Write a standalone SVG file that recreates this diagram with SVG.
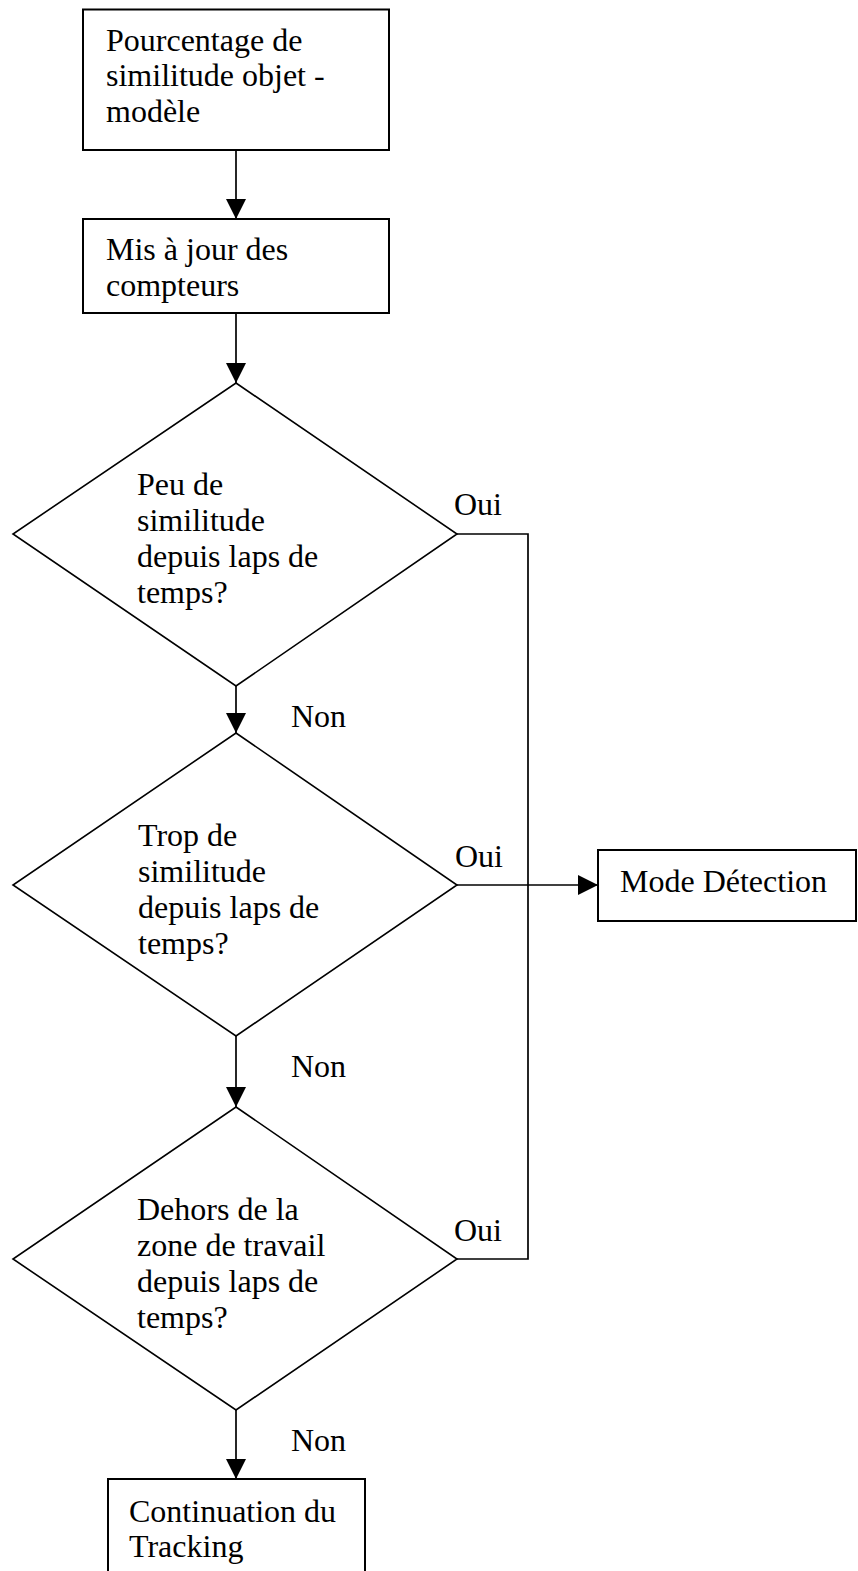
<svg xmlns="http://www.w3.org/2000/svg" width="858" height="1571" viewBox="0 0 858 1571">
  <style>
    .box { fill: #ffffff; stroke: #000000; stroke-width: 2; }
    .dec { fill: #ffffff; stroke: #000000; stroke-width: 1.6; }
    .edge { fill: none; stroke: #000000; stroke-width: 1.7; }
    .lbl { font-family: "Liberation Serif", "Times New Roman", serif; font-size: 32px; fill: #000000; }
  </style>
  <defs>
    <marker id="arrow" markerUnits="userSpaceOnUse" markerWidth="20" markerHeight="20" viewBox="0 0 20 20" refX="20" refY="10" orient="auto">
      <path d="M0,0 L20,10 L0,20 Z" fill="#000000"/>
    </marker>
  </defs>
  <rect width="858" height="1571" fill="#ffffff"/>

  <!-- connectors -->
  <g id="connectors">
    <line class="edge" x1="236" y1="150" x2="236" y2="219" marker-end="url(#arrow)"/>
    <line class="edge" x1="236" y1="313" x2="236" y2="383" marker-end="url(#arrow)"/>
    <line class="edge" x1="236" y1="686" x2="236" y2="733" marker-end="url(#arrow)"/>
    <line class="edge" x1="236" y1="1036" x2="236" y2="1107" marker-end="url(#arrow)"/>
    <line class="edge" x1="236" y1="1410" x2="236" y2="1479" marker-end="url(#arrow)"/>
    <polyline class="edge" points="457,534 528,534 528,1259 457,1259"/>
    <line class="edge" x1="457" y1="885" x2="598" y2="885" marker-end="url(#arrow)"/>
    <text class="lbl" x="454" y="515">Oui</text>
    <text class="lbl" x="455" y="867">Oui</text>
    <text class="lbl" x="454" y="1241">Oui</text>
    <text class="lbl" x="291" y="727">Non</text>
    <text class="lbl" x="291" y="1077">Non</text>
    <text class="lbl" x="291" y="1451">Non</text>
  </g>

  <g id="pourcentage">
    <rect class="box" x="83" y="9.5" width="306" height="140.5"/>
    <text class="lbl" x="106" y="51">Pourcentage de</text>
    <text class="lbl" x="106" y="86">similitude objet -</text>
    <text class="lbl" x="106" y="122">modèle</text>
  </g>

  <g id="compteurs">
    <rect class="box" x="83" y="219" width="306" height="94"/>
    <text class="lbl" x="106" y="260">Mis à jour des</text>
    <text class="lbl" x="106" y="296">compteurs</text>
  </g>

  <g id="peu-similitude">
    <polygon class="dec" points="236,383 457,534 236,686 13,534"/>
    <text class="lbl" x="137" y="495">Peu de</text>
    <text class="lbl" x="137" y="531">similitude</text>
    <text class="lbl" x="137" y="567">depuis laps de</text>
    <text class="lbl" x="137" y="603">temps?</text>
  </g>

  <g id="trop-similitude">
    <polygon class="dec" points="236,733 457,885 236,1036 13,885"/>
    <text class="lbl" x="138" y="846">Trop de</text>
    <text class="lbl" x="138" y="882">similitude</text>
    <text class="lbl" x="138" y="918">depuis laps de</text>
    <text class="lbl" x="138" y="954">temps?</text>
  </g>

  <g id="hors-zone">
    <polygon class="dec" points="236,1107 457,1259 236,1410 13,1259"/>
    <text class="lbl" x="137" y="1220">Dehors de la</text>
    <text class="lbl" x="137" y="1256">zone de travail</text>
    <text class="lbl" x="137" y="1292">depuis laps de</text>
    <text class="lbl" x="137" y="1328">temps?</text>
  </g>

  <g id="mode-detection">
    <rect class="box" x="598" y="850" width="258" height="71"/>
    <text class="lbl" x="620" y="892">Mode Détection</text>
  </g>

  <g id="continuation">
    <rect class="box" x="108" y="1479" width="257" height="110"/>
    <text class="lbl" x="129" y="1522">Continuation du</text>
    <text class="lbl" x="129" y="1557">Tracking</text>
  </g>
</svg>
